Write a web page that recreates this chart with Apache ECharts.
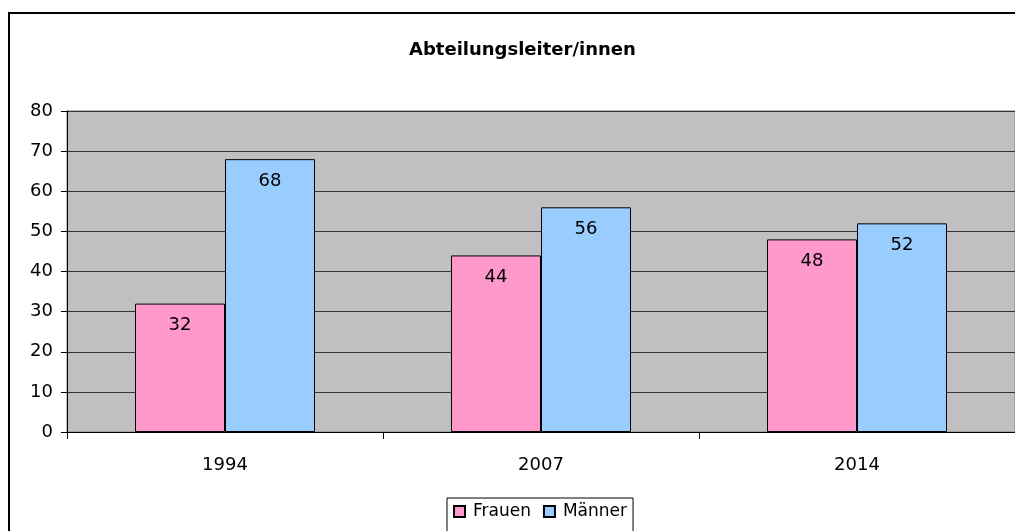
<!DOCTYPE html>
<html>
<head>
<meta charset="utf-8">
<style>
  html, body { margin: 0; padding: 0; background: #ffffff; }
  #chart { width: 1015px; height: 531px; }
</style>
<script src="https://cdn.jsdelivr.net/npm/echarts@6/dist/echarts.min.js"></script>
</head>
<body>
<div id="chart"></div>
<script>
// Anteil Frauen / Männer unter Abteilungsleitern (Prozent)
const years = ['1994', '2007', '2014'];
const frauen = [32, 44, 48];
const maenner = [68, 56, 52];
const yTicks = { min: 0, max: 80, step: 10 };

const FONT = 'DejaVu Sans';
const chart = echarts.init(document.getElementById('chart'), null, { renderer: 'canvas' });

const barLabel = {
  show: true,
  position: 'insideTop',
  distance: 13,
  color: '#000',
  fontFamily: FONT,
  fontSize: 18
};

chart.setOption({
  animation: false,
  backgroundColor: '#ffffff',
  title: {
    text: 'Abteilungsleiter/innen',
    left: 404,
    top: 36,
    textStyle: { fontFamily: FONT, fontWeight: 'bold', fontSize: 18, color: '#000' }
  },
  graphic: [{
    type: 'rect',
    z: 100,
    silent: true,
    shape: { x: 9, y: 13, width: 1100, height: 600 },
    style: { fill: 'none', stroke: '#000', lineWidth: 2 }
  }],
  legend: {
    left: 447,
    top: 498,
    itemGap: 12,
    itemWidth: 11,
    itemHeight: 11,
    icon: 'rect',
    padding: [5, 6, 12, 6],
    borderColor: '#000',
    borderWidth: 1,
    backgroundColor: '#fff',
    textStyle: { fontFamily: FONT, fontSize: 17, color: '#000', padding: [0, 0, 0, 3] },
    data: ['Frauen', 'Männer']
  },
  grid: {
    left: 67,
    top: 111,
    right: -3,
    bottom: 99,
    show: true,
    backgroundColor: '#c0c0c0',
    borderColor: '#808080',
    borderWidth: 1
  },
  xAxis: {
    type: 'category',
    data: years,
    axisLine: { show: true, lineStyle: { color: '#000', width: 1 } },
    axisTick: { show: true, length: 7, lineStyle: { color: '#000' } },
    axisLabel: { margin: 24, color: '#000', fontFamily: FONT, fontSize: 18 }
  },
  yAxis: {
    type: 'value',
    min: yTicks.min,
    max: yTicks.max,
    interval: yTicks.step,
    axisLine: { show: true, lineStyle: { color: '#000', width: 1 } },
    axisTick: { show: true, length: 6, lineStyle: { color: '#000' } },
    axisLabel: { margin: 14, color: '#000', fontFamily: FONT, fontSize: 18 },
    splitLine: { show: true, lineStyle: { color: '#333', width: 1 } }
  },
  series: [
    {
      name: 'Frauen',
      type: 'bar',
      data: frauen,
      barWidth: 90,
      barGap: '0%',
      itemStyle: { color: '#ff99cc', borderColor: '#000', borderWidth: 1 },
      label: barLabel
    },
    {
      name: 'Männer',
      type: 'bar',
      data: maenner,
      barWidth: 90,
      barGap: '0%',
      itemStyle: { color: '#99ccff', borderColor: '#000', borderWidth: 1 },
      label: barLabel
    }
  ]
});
</script>
</body>
</html>
